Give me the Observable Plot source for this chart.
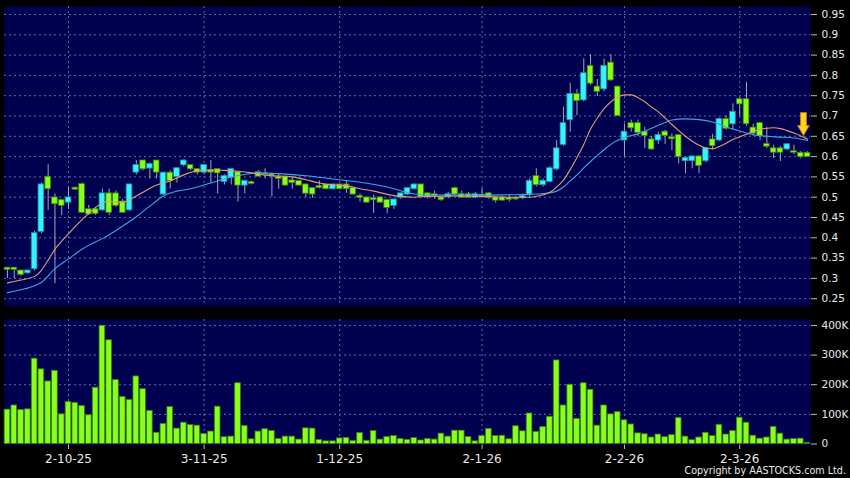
<!DOCTYPE html>
<html><head><meta charset="utf-8">
<script src="https://cdn.jsdelivr.net/npm/d3@7"></script>
<script src="https://cdn.jsdelivr.net/npm/@observablehq/plot@0.6"></script>
<style>
html,body{margin:0;padding:0;background:#000;}
#chart{position:relative;width:850px;height:478px;overflow:hidden;background:#000;font-family:"DejaVu Sans",sans-serif;}
#chart svg{display:block;}
#copy{position:absolute;right:4px;top:466px;color:#e8e8e8;font-size:9.6px;line-height:1;white-space:nowrap;}
</style></head><body><div id="chart"></div>
<script>
// ---- data ----
const tickIdx = [9, 29, 49, 70, 91, 108];
const tickLabels = ["2-10-25", "3-11-25", "1-12-25", "2-1-26", "2-2-26", "2-3-26"];
const priceTicks = [0.25,0.3,0.35,0.4,0.45,0.5,0.55,0.6,0.65,0.7,0.75,0.8,0.85,0.9,0.95];
const volTicks = [0, 100000, 200000, 300000, 400000];

const open = [0.325,0.325,0.318,0.314,0.324,0.416,0.549,0.498,0.492,0.488,0.522,0.531,0.469,0.469,0.469,0.508,0.508,0.488,0.469,0.562,
0.589,0.572,0.589,0.508,0.559,0.551,0.580,0.578,0.568,0.562,0.565,0.568,0.539,0.549,0.560,0.530,0.536,0.560,0.557,0.556,
0.548,0.549,0.540,0.539,0.530,0.521,0.526,0.530,0.521,0.530,0.530,0.521,0.502,0.498,0.496,0.498,0.492,0.480,0.500,0.508,
0.521,0.530,0.508,0.506,0.498,0.502,0.521,0.506,0.506,0.500,0.505,0.508,0.498,0.498,0.496,0.497,0.499,0.508,0.551,0.531,
0.539,0.570,0.630,0.691,0.753,0.740,0.822,0.771,0.767,0.830,0.771,0.641,0.681,0.681,0.660,0.641,0.641,0.660,0.646,0.652,
0.590,0.590,0.599,0.590,0.641,0.641,0.691,0.681,0.740,0.740,0.670,0.681,0.630,0.619,0.619,0.619,0.612,0.608,0.608];
const high = [0.325,0.325,0.320,0.320,0.416,0.535,0.580,0.508,0.495,0.525,0.525,0.535,0.480,0.475,0.520,0.520,0.515,0.495,0.532,0.590,
0.590,0.585,0.590,0.560,0.565,0.572,0.592,0.580,0.570,0.580,0.590,0.570,0.555,0.570,0.562,0.540,0.540,0.566,0.570,0.560,
0.556,0.552,0.549,0.541,0.532,0.523,0.540,0.532,0.532,0.532,0.540,0.523,0.508,0.500,0.505,0.500,0.495,0.495,0.510,0.522,
0.532,0.532,0.510,0.515,0.502,0.512,0.525,0.515,0.512,0.512,0.521,0.512,0.500,0.502,0.505,0.500,0.508,0.545,0.570,0.545,
0.575,0.640,0.722,0.781,0.765,0.841,0.851,0.790,0.840,0.851,0.771,0.680,0.690,0.690,0.672,0.650,0.660,0.665,0.656,0.652,
0.599,0.600,0.603,0.622,0.655,0.695,0.700,0.730,0.745,0.783,0.680,0.685,0.672,0.628,0.625,0.632,0.628,0.612,0.612];
const low = [0.300,0.300,0.305,0.310,0.318,0.410,0.467,0.287,0.455,0.470,0.518,0.460,0.455,0.455,0.465,0.455,0.475,0.460,0.465,0.555,
0.565,0.545,0.545,0.505,0.520,0.535,0.575,0.565,0.555,0.555,0.533,0.508,0.530,0.530,0.488,0.508,0.530,0.552,0.545,0.500,
0.520,0.528,0.520,0.528,0.500,0.497,0.520,0.518,0.518,0.518,0.510,0.505,0.488,0.485,0.460,0.485,0.459,0.470,0.495,0.505,
0.518,0.498,0.495,0.495,0.490,0.496,0.505,0.498,0.498,0.497,0.500,0.495,0.486,0.490,0.488,0.492,0.494,0.500,0.525,0.525,
0.535,0.565,0.625,0.660,0.701,0.735,0.775,0.748,0.760,0.785,0.701,0.599,0.660,0.650,0.620,0.615,0.630,0.630,0.615,0.582,
0.558,0.570,0.558,0.585,0.617,0.638,0.665,0.665,0.700,0.675,0.650,0.640,0.620,0.595,0.588,0.615,0.605,0.595,0.600];
const close = [0.322,0.322,0.310,0.318,0.410,0.530,0.521,0.484,0.480,0.498,0.520,0.463,0.459,0.460,0.508,0.463,0.480,0.463,0.530,0.578,
0.570,0.580,0.562,0.559,0.541,0.570,0.589,0.570,0.562,0.578,0.562,0.560,0.551,0.568,0.530,0.539,0.534,0.552,0.556,0.555,
0.546,0.530,0.536,0.530,0.510,0.508,0.524,0.521,0.530,0.521,0.521,0.508,0.500,0.488,0.494,0.488,0.475,0.493,0.508,0.521,
0.530,0.502,0.502,0.504,0.494,0.506,0.508,0.500,0.500,0.506,0.504,0.500,0.493,0.493,0.495,0.496,0.501,0.539,0.531,0.539,
0.570,0.619,0.681,0.753,0.738,0.804,0.781,0.761,0.822,0.789,0.701,0.660,0.671,0.660,0.652,0.619,0.652,0.652,0.644,0.600,
0.595,0.599,0.578,0.619,0.627,0.691,0.670,0.709,0.730,0.681,0.658,0.652,0.626,0.611,0.611,0.629,0.611,0.600,0.600];
const volumeK = [116,130,115,117,288,252,211,247,100,142,139,128,97,190,399,350,216,159,149,228,
185,112,38,68,125,52,72,64,62,34,42,126,23,25,205,61,16,42,50,44,
17,25,25,15,53,52,14,9,9,19,21,10,37,11,44,15,24,27,17,14,
20,12,17,15,35,25,45,45,24,9,27,51,27,28,16,60,43,103,41,57,
92,282,130,200,85,205,183,62,130,100,108,80,66,36,33,22,32,23,30,88,
25,13,22,38,27,65,32,44,89,72,28,18,22,58,35,15,17,18,4];

// moving averages
const maFastIdx = [0,2,4,5,6,7,8,9,10,11,12,13,14,15,16,17,18,19,20,21,22,24,26,28,30,32,34,36,38,40,42,44,46,48,50,52,54,56,58,60,62,66,70,74,77,79,80,81,82,83,84,85,86,87,88,89,90,91,92,93,94,95,96,97,98,99,100,101,102,103,104,105,106,107,108,109,110,111,112,113,114,115,116,117,118];
const maFastVal = [0.289,0.296,0.305,0.320,0.345,0.372,0.392,0.410,0.428,0.445,0.460,0.475,0.486,0.490,0.488,0.487,0.494,0.503,0.512,0.522,0.530,0.540,0.555,0.565,0.567,0.566,0.564,0.560,0.554,0.552,0.550,0.543,0.535,0.530,0.528,0.521,0.515,0.507,0.502,0.500,0.502,0.503,0.502,0.500,0.500,0.506,0.512,0.525,0.542,0.568,0.598,0.630,0.668,0.695,0.718,0.735,0.746,0.752,0.752,0.745,0.735,0.722,0.710,0.695,0.679,0.664,0.650,0.638,0.628,0.621,0.619,0.625,0.633,0.642,0.649,0.655,0.662,0.667,0.670,0.671,0.669,0.664,0.658,0.651,0.643];
const maSlowIdx = [0,2,4,5,7,9,11,12,14,16,18,19,21,23,25,27,29,31,33,35,37,40,44,48,52,56,58,60,62,66,70,74,77,79,81,82,83,84,85,86,87,88,89,90,91,93,95,97,98,100,102,104,106,108,110,112,114,116,118];
const maSlowVal = [0.265,0.272,0.282,0.290,0.324,0.348,0.372,0.382,0.398,0.418,0.440,0.452,0.478,0.503,0.515,0.521,0.530,0.540,0.550,0.556,0.560,0.558,0.553,0.545,0.537,0.525,0.516,0.508,0.506,0.505,0.505,0.506,0.507,0.509,0.515,0.525,0.540,0.555,0.572,0.588,0.603,0.617,0.630,0.640,0.647,0.656,0.670,0.684,0.690,0.693,0.691,0.685,0.673,0.663,0.654,0.650,0.648,0.646,0.640];

// latest-price marker (annotation)
const markerIdx = [117.4];
const markerPrice = [0.680];

// ---- build ----
const navy = "#000050";
const gridC = "#5f6d9e";
const cyan = "#36f4ff", cyanEdge = "#1a8c99";
const lime = "#86ff1e", limeEdge = "#3d7a0c";
const textC = "#e8e8e8";
const xDomain = [-0.44, 118.44];

const bars = open.map((o, i) => ({i, o, h: high[i], l: low[i], c: close[i], v: volumeK[i] * 1000}));
const fast = maFastIdx.map((k, j) => ({k, v: maFastVal[j]}));
const slow = maSlowIdx.map((k, j) => ({k, v: maSlowVal[j]}));
const marker = markerIdx.map((k, j) => ({k, v: markerPrice[j]}));
const isUp = d => d.c > d.o;

const arrowSymbol = {
  draw(ctx) {
    ctx.moveTo(-3, -11.5); ctx.lineTo(3, -11.5); ctx.lineTo(3, 1.5);
    ctx.lineTo(5.8, 1.5); ctx.lineTo(0, 11.5); ctx.lineTo(-5.8, 1.5);
    ctx.lineTo(-3, 1.5); ctx.closePath();
  }
};

const baseStyle = {background: "transparent", color: textC, fontFamily: "DejaVu Sans, sans-serif", fontSize: "10.5px", overflow: "visible"};

const price = Plot.plot({
  width: 850, height: 312,
  marginLeft: 4, marginRight: 40, marginTop: 6, marginBottom: 6,
  style: baseStyle,
  x: {type: "linear", domain: xDomain, axis: null},
  y: {domain: [0.2308, 0.9697], axis: null},
  marks: [
    Plot.frame({fill: navy}),
    Plot.gridY(priceTicks, {stroke: gridC, strokeOpacity: 1, strokeDasharray: "2,3"}),
    Plot.gridX(tickIdx, {stroke: gridC, strokeOpacity: 1, strokeDasharray: "2,3"}),
    Plot.axisY(priceTicks, {anchor: "right", label: null, tickSize: 6, tickPadding: 5, stroke: "#bbbbbb", fill: textC, fontSize: 10.5,
      tickFormat: d => String(+d.toFixed(2))}),
    Plot.ruleX(bars, {x: "i", y1: "l", y2: "h", stroke: "#a4a4b4", strokeWidth: 1}),
    Plot.rect(bars, {x1: d => d.i - 0.42, x2: d => d.i + 0.42,
      y1: d => Math.min(d.o, d.c), y2: d => Math.max(d.o, d.c),
      insetTop: -0.6, insetBottom: -0.6,
      fill: d => isUp(d) ? cyan : lime, stroke: d => isUp(d) ? cyanEdge : limeEdge, strokeWidth: 0.8}),
    Plot.line(slow, {x: "k", y: "v", stroke: "#3fa6e6", strokeWidth: 1.1, curve: "monotone-x"}),
    Plot.line(fast, {x: "k", y: "v", stroke: "#e59a72", strokeWidth: 1.1, curve: "monotone-x"}),
    Plot.dot(marker, {x: "k", y: "v", symbol: arrowSymbol, r: 6, fill: "#ffd22a", stroke: "#c07c00", strokeWidth: 1})
  ]
});

const volume = Plot.plot({
  width: 850, height: 166,
  marginLeft: 4, marginRight: 40, marginTop: 7, marginBottom: 33,
  style: baseStyle,
  x: {type: "linear", domain: xDomain, axis: null},
  y: {domain: [-5000, 420000], axis: null},
  marks: [
    Plot.frame({fill: navy}),
    Plot.gridY(volTicks.filter(d => d > 0), {stroke: gridC, strokeOpacity: 1, strokeDasharray: "2,3"}),
    Plot.gridX(tickIdx, {stroke: gridC, strokeOpacity: 1, strokeDasharray: "2,3"}),
    Plot.rect(bars, {x1: d => d.i - 0.42, x2: d => d.i + 0.42, y1: 0, y2: "v",
      fill: lime, stroke: limeEdge, strokeWidth: 0.8}),
    Plot.axisY(volTicks, {anchor: "right", label: null, tickSize: 6, tickPadding: 5, stroke: "#bbbbbb", fill: textC, fontSize: 10.5,
      tickFormat: d => d === 0 ? "0" : (d / 1000) + "K"}),
    Plot.axisX(tickIdx, {anchor: "bottom", label: null, tickSize: 4, tickPadding: 5, stroke: "#bbbbbb", fill: textC, fontSize: 12,
      tickFormat: d => tickLabels[tickIdx.indexOf(d)]})
  ]
});

const chart = document.getElementById("chart");
chart.appendChild(price);
chart.appendChild(volume);
const copy = document.createElement("div");
copy.id = "copy";
copy.textContent = "Copyright by AASTOCKS.com Ltd.";
chart.appendChild(copy);
</script></body></html>
